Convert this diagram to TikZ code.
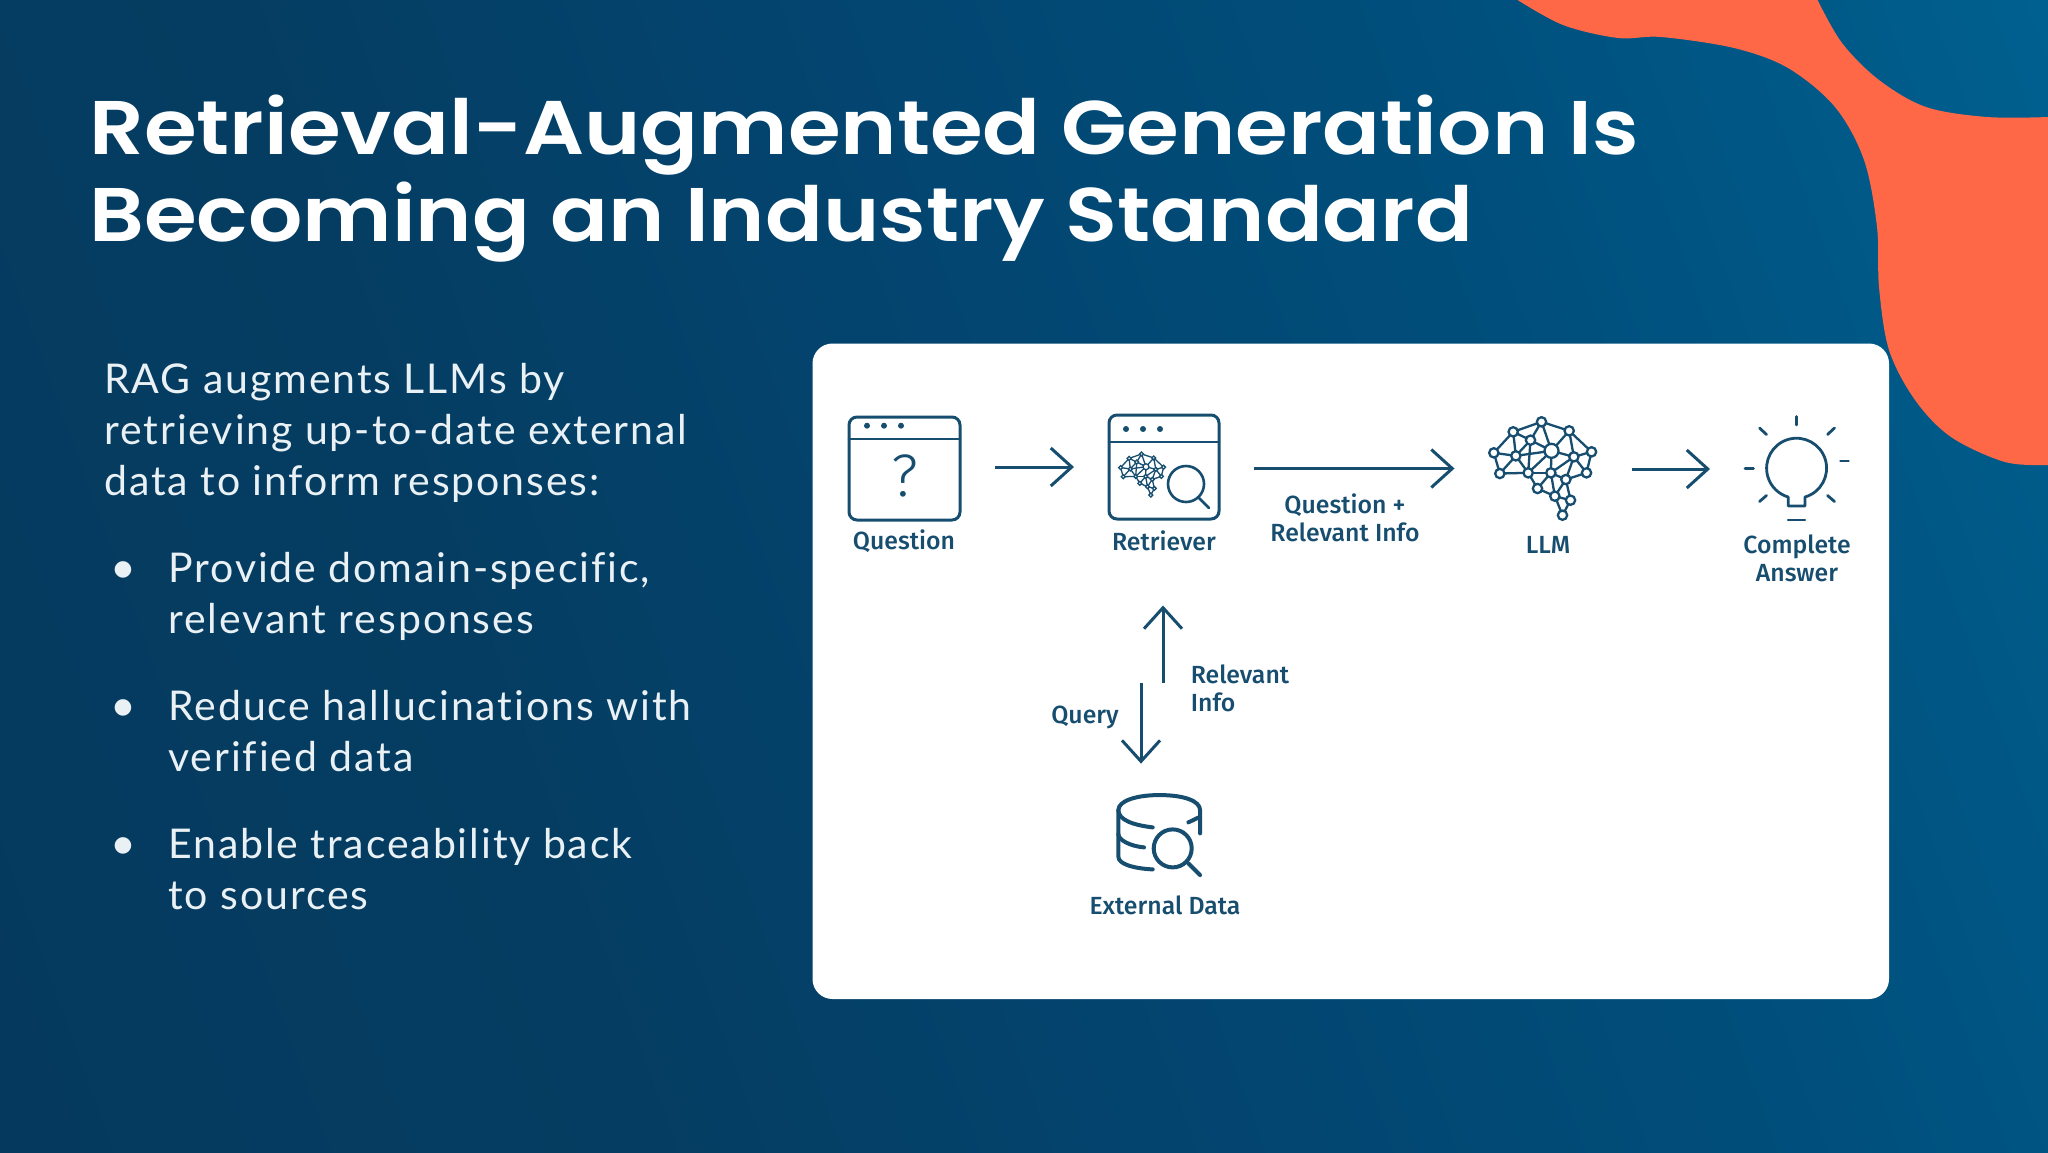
\documentclass[tikz,border=0pt]{standalone}
\usepackage{fontspec}
\usetikzlibrary{arrows.meta}
\setmainfont{Lato}[LetterSpace=4.6,Ligatures=NoCommon]
\newfontfamily\ttlfont{Poppins SemiBold}
\newfontfamily\labfont{Fira Sans Medium}
\newfontfamily\qfont{Fira Sans Light}
\newfontfamily\symfont{DejaVu Sans}
\definecolor{bgA}{HTML}{053A5E}
\definecolor{bgB}{HTML}{053D62}
\definecolor{bgC}{HTML}{034570}
\definecolor{bgD}{HTML}{004E7B}
\definecolor{bgE}{HTML}{00608F}
\pgfdeclarehorizontalshading{slidebg}{100bp}{color(0bp)=(bgA); color(18bp)=(bgA); color(35bp)=(bgB); color(50bp)=(bgC); color(65bp)=(bgD); color(82bp)=(bgE); color(100bp)=(bgE)}
\definecolor{orangeblob}{HTML}{FF6847}
\definecolor{ink}{HTML}{174E70}
\definecolor{bodytext}{HTML}{EAF1F5}
\tikzset{
  ttl/.style={anchor=base west,inner sep=0,text=white,font=\ttlfont\fontsize{38pt}{38pt}\selectfont,xscale=1.123},
  bodyline/.style={anchor=base west,inner sep=0,text=bodytext,font=\fontsize{20.5pt}{24pt}\selectfont},
  bulletmark/.style={anchor=center,inner sep=0,text=bodytext,font=\symfont\fontsize{10.8pt}{12pt}\selectfont},
  lab/.style={anchor=center,inner sep=0,text=ink,font=\labfont\fontsize{12.4pt}{14pt}\selectfont},
  iconline/.style={draw=ink,line width=1.4pt,line cap=round,line join=round},
  conn/.style={draw=ink,line width=1.5pt,-{Straight Barb[length=10.5pt,width=19pt,line width=1.5pt]}},
  iconbox/.style={inner sep=0,outer sep=0},
  browser/.style={draw=ink,line width=1.5pt,rounded corners=4pt,inner sep=0,outer sep=0,fill=white},
}
\newcommand{\brainicon}[5]{% x, y, scale, line width, radius factor
\begin{scope}[shift={(#1,#2)},x=#3*0.1667pt,y=-#3*0.1667pt]
\coordinate (n1) at (-3,-140);
\coordinate (n2) at (-88,-110);
\coordinate (n3) at (80,-113);
\coordinate (n4) at (-36,-85);
\coordinate (n5) at (-146,-47);
\coordinate (n6) at (-80,-38);
\coordinate (n7) at (27,-53);
\coordinate (n8) at (94,-35);
\coordinate (n9) at (147,-50);
\coordinate (n10) at (-128,15);
\coordinate (n11) at (-43,13);
\coordinate (n12) at (25,13);
\coordinate (n13) at (70,33);
\coordinate (n14) at (132,13);
\coordinate (n15) at (-15,60);
\coordinate (n16) at (37,83);
\coordinate (n17) at (84,95);
\coordinate (n18) at (60,140);
\foreach \a/\b in {1/2,1/3,1/4,1/7,2/4,2/5,2/6,4/6,4/7,3/7,3/8,3/9,5/6,5/10,6/10,6/11,6/7,10/11,11/7,11/12,11/15,7/12,7/8,12/8,12/13,8/9,8/14,9/14,8/13,14/13,12/15,12/16,15/16,13/16,13/17,16/17,16/18,17/18,4/11}
  \draw[draw=ink,line width=#4] (n\a) -- (n\b);
\foreach \k in {1,2,3,4,5,6,8,9,10,11,12,13,14,15,16,17,18}
  \draw[draw=ink,fill=white,line width=#4] (n\k) circle[radius=#5*0.1667*14pt];
\draw[draw=ink,fill=white,line width=#4] (n7) circle[radius=#5*0.1667*21pt];
\end{scope}}
\begin{document}
\begin{tikzpicture}[x=0.5pt,y=-0.5pt]
\useasboundingbox (0,0) rectangle (2048,1152);
\shade[shading=slidebg,shading angle=20] (0,0) rectangle (2048,1152);
% orange shape
\fill[orangeblob] plot[smooth,tension=0.55] coordinates {(1516,-1) (1563,25) (1618,38) (1661,37) (1734,48) (1788,68) (1835,107) (1864,160) (1877,227) (1879,287) (1889,350) (1915,400) (1951,437) (2005,462) (2049,465)}
  -- (2049,117) -- plot[smooth,tension=0.55] coordinates {(2049,117) (1987,117) (1926,107) (1879,80) (1842,43) (1817,-1)} -- cycle;
% title
\node[ttl] (t1) at (89,154) {Retrieval-Augmented Generation Is};
\node[ttl] (t2) at (89,241) {Becoming an Industry Standard};
% body
\node[bodyline] (b1) at (104,393) {RAG augments LLMs by};
\node[bodyline] (b2) at (104,444) {retrieving up-to-date external};
\node[bodyline] (b3) at (104,495) {data to inform responses:};
\node[bulletmark] (m1) at (123,570) {●};
\node[bodyline] (b4) at (168,582) {Provide domain-specific,};
\node[bodyline] (b5) at (168,633) {relevant responses};
\node[bulletmark] (m2) at (123,708) {●};
\node[bodyline] (b6) at (168,720) {Reduce hallucinations with};
\node[bodyline] (b7) at (168,771) {verified data};
\node[bulletmark] (m3) at (123,846) {●};
\node[bodyline] (b8) at (168,858) {Enable traceability back};
\node[bodyline] (b9) at (168,909) {to sources};
% card
\fill[white,rounded corners=10pt] (812.5,343.5) rectangle (1889,999);
% question icon
\node[browser,minimum width=55.5pt,minimum height=51.5pt] (qbox) at (904.5,468.5) {};
\draw[iconline] (849,439) -- (960,439);
\foreach \x in {867,884,901} \fill[ink] (\x,425.7) circle[radius=1.5pt];
\node[anchor=center,inner sep=0,text=ink,font=\qfont\fontsize{30pt}{30pt}\selectfont] (qmark) at (905,476) {?};
% retriever icon
\node[browser,minimum width=55pt,minimum height=52pt] (rbox) at (1164,467) {};
\draw[iconline] (1109,442) -- (1219,442);
\foreach \x in {1126,1143,1160} \fill[ink] (\x,429) circle[radius=1.5pt];
\brainicon{1142}{474.5}{0.44}{0.65pt}{0.42}
\draw[iconline,line width=1.3pt] (1186,484) circle[radius=9pt];
\draw[iconline,line width=1.3pt] (1198,497) -- (1209,508);
% LLM icon
\node[iconbox,minimum width=55pt,minimum height=52pt] (lbrain) at (1542.5,468.5) {};
\brainicon{1542.5}{468.5}{1}{1.15pt}{1}
% bulb icon
\node[iconbox,minimum width=52.5pt,minimum height=53pt] (bulb) at (1796.5,469) {};
\draw[iconline] (1805,497) arc[start angle=-73.7,end angle=253.7,radius=15pt] -- (1788.3,506) -- (1805,506) -- cycle;
\draw[iconline,line width=1.2pt] (1788,520) -- (1805,520);
\draw[iconline] (1796.7,416.5) -- (1796.7,425);
\draw[iconline] (1759.5,428) -- (1766.5,434.5);
\draw[iconline] (1834.5,428) -- (1827.5,434.5);
\draw[iconline] (1840.5,461) -- (1848.5,461);
\draw[iconline] (1745,468.7) -- (1753.5,468.7);
\draw[iconline] (1759.5,501.5) -- (1766.5,495.5);
\draw[iconline] (1834.5,501.5) -- (1827.5,495.5);
% database icon
\node[iconbox,minimum width=42.5pt,minimum height=42pt] (db) at (1159.5,835) {};
\begin{scope}[shift={(1020,590)},x=0.1667pt,y=-0.1667pt]
\draw[iconline,line width=2pt] (398,712) .. controls (340,705) and (295,690) .. (295,660)
  .. controls (295,632) and (350,615) .. (418,615)
  .. controls (490,615) and (540,632) .. (540,660) -- (540,730);
\draw[iconline,line width=2pt] (505,697) -- (540,680);
\draw[iconline,line width=2pt] (295,660) -- (295,800) .. controls (295,822) and (340,835) .. (398,838);
\draw[iconline,line width=2pt] (295,732) .. controls (295,750) and (330,768) .. (372,772);
\draw[iconline,line width=2pt] (458,775) circle[radius=9.5pt];
\draw[iconline,line width=2pt] (505,820) -- (540,855);
\end{scope}
% labels
\node[lab] (lq) at (904,541) {Question};
\node[lab] (lr) at (1164,541) {Retriever};
\node[lab,align=center] (lqr) at (1345,518) {Question +\\Relevant Info};
\node[lab] (ll) at (1548,545) {LLM};
\node[lab,align=center] (lc) at (1797,558.5) {Complete\\Answer};
\node[lab] (le) at (1165,905) {External Data};
\node[lab] (lquery) at (1085,717) {Query};
\node[lab,align=left] (lrel) at (1240,688) {Relevant\\Info};
% connectors
\draw[conn,shorten <=17.5pt,shorten >=17.5pt] (qbox.east |- rbox.west) -- (rbox.west);
\draw[conn,shorten <=17.25pt,shorten >=16.5pt] (rbox.east |- lbrain.west) -- (lbrain.west);
\draw[conn,shorten <=17pt,shorten >=17pt] (lbrain.east |- bulb.west) -- (bulb.west);
\coordinate (upfoot) at (1163,683);
\coordinate (downtop) at (1141,683);
\draw[conn,shorten >=27pt] (upfoot) -- (upfoot |- lr.south);
\draw[conn,shorten >=14.7pt] (downtop) -- (downtop |- db.north);
\end{tikzpicture}
\end{document}
